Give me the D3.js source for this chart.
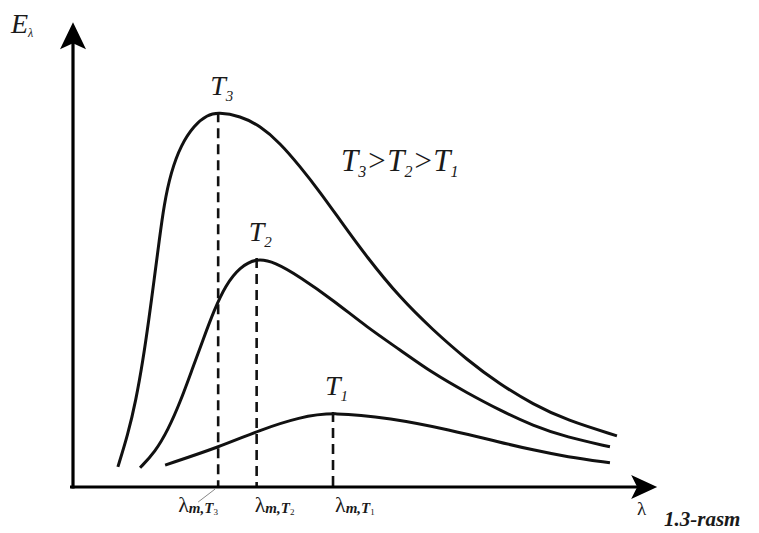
<!DOCTYPE html>
<html>
<head>
<meta charset="utf-8">
<script src="https://cdn.jsdelivr.net/npm/d3@7"></script>
<style>
  body { margin: 0; background: #fff; }
  text { font-family: "Liberation Serif", "DejaVu Serif", serif; fill: #1a1a1a; }
</style>
</head>
<body>
<svg width="759" height="533"></svg>
<script>
let svg = d3.select("svg");

// curve values (arbitrary units: lambda, E_lambda)
let seriesT3 = [
  [0.77, 0.44], [0.94, 1.14], [1.08, 1.90], [1.20, 2.77], [1.30, 3.65],
  [1.39, 4.52], [1.48, 5.40], [1.56, 6.17], [1.68, 6.89], [1.85, 7.48],
  [2.08, 7.92], [2.30, 8.14], [2.49, 8.20], [2.87, 8.12], [3.21, 7.90],
  [3.55, 7.53], [3.89, 7.02], [4.24, 6.45], [4.58, 5.84], [5.04, 5.03],
  [5.61, 4.14], [6.17, 3.44], [6.76, 2.78], [7.32, 2.25], [7.89, 1.81],
  [8.47, 1.46], [9.33, 1.12]
];
let seriesT2 = [
  [1.15, 0.42], [1.41, 0.77], [1.63, 1.25], [1.84, 1.86], [2.04, 2.56],
  [2.23, 3.22], [2.42, 3.87], [2.62, 4.42], [2.86, 4.81], [3.15, 5.01],
  [3.46, 4.92], [3.89, 4.60], [4.46, 4.09], [5.04, 3.50], [5.61, 3.00],
  [6.17, 2.49], [6.76, 2.06], [7.32, 1.68], [7.89, 1.34], [8.47, 1.09],
  [9.21, 0.88]
];
let seriesT1 = [
  [1.58, 0.48], [2.52, 0.88], [3.21, 1.25], [3.89, 1.53], [4.46, 1.64],
  [5.44, 1.51], [6.47, 1.25], [7.32, 0.98], [7.89, 0.81], [8.47, 0.66],
  [9.21, 0.53]
];

let tempIndex = ["3", "2", "1"];
let allSeries = [seriesT3, seriesT2, seriesT1];

let x = d3.scaleLinear().domain([0, 10]).range([73, 656]);
let y = d3.scaleLinear().domain([0, 10]).range([487, 30]);

let line = d3.line()
    .x(function(d) { return x(d[0]); })
    .y(function(d) { return y(d[1]); })
    .curve(d3.curveBasis);

// peaks found from the data
let peaks = allSeries.map(function(s) { return d3.greatest(s, function(d) { return d[1]; }); });

// dashed drop lines at lambda max
svg.append("g")
    .selectAll("line")
    .data(peaks)
    .enter().append("line")
    .attr("x1", function(d) { return x(d[0]); })
    .attr("x2", function(d) { return x(d[0]); })
    .attr("y1", function(d) { return y(d[1]); })
    .attr("y2", y(0))
    .attr("stroke", "#111")
    .attr("stroke-width", 2.6)
    .attr("stroke-dasharray", "10,6");

// curves
svg.append("g")
    .selectAll("path")
    .data(allSeries)
    .enter().append("path")
    .attr("d", line)
    .attr("fill", "none")
    .attr("stroke", "#111")
    .attr("stroke-width", 3);

// axes
let x0 = x(0), y0 = y(0), xEnd = x(10.02), yEnd = y(10.17);
svg.append("line")
    .attr("x1", x0 - 3).attr("y1", y0).attr("x2", xEnd - 10).attr("y2", y0)
    .attr("stroke", "#000").attr("stroke-width", 3.2);
svg.append("line")
    .attr("x1", x0).attr("y1", y0 + 1.5).attr("x2", x0).attr("y2", yEnd + 10)
    .attr("stroke", "#000").attr("stroke-width", 3.2);
svg.append("path")
    .attr("d", d3.line()([[x0, yEnd], [x0 + 13, yEnd + 27], [x0, yEnd + 21], [x0 - 13, yEnd + 27]]) + "Z")
    .attr("fill", "#000");
svg.append("path")
    .attr("d", d3.line()([[xEnd, y0], [xEnd - 26, y0 + 12], [xEnd - 20, y0], [xEnd - 26, y0 - 12]]) + "Z")
    .attr("fill", "#000");

// T labels above each peak
let tLabels = svg.append("g")
    .selectAll("text")
    .data(peaks)
    .enter().append("text")
    .attr("x", function(d) { return x(d[0]) - 8; })
    .attr("y", function(d) { return y(d[1]) - 17; })
    .attr("font-size", 28)
    .attr("font-style", "italic");
tLabels.append("tspan").text("T");
tLabels.append("tspan")
    .attr("font-size", 15).attr("dy", 6)
    .text(function(d, i) { return tempIndex[i]; });

// lambda max labels under the axis
let labelShift = [-40, -2, 2];
let lLabels = svg.append("g")
    .selectAll("text")
    .data(peaks)
    .enter().append("text")
    .attr("x", function(d, i) { return x(d[0]) + labelShift[i]; })
    .attr("y", y0 + 25)
    .attr("font-size", 22)
    .attr("fill", "#333");
lLabels.append("tspan").text("λ");
lLabels.append("tspan")
    .attr("font-size", 15).attr("font-style", "italic").attr("font-weight", "bold").attr("dy", 1)
    .text("m,T");
lLabels.append("tspan")
    .attr("font-size", 9).attr("dy", 2)
    .text(function(d, i) { return tempIndex[i]; });

// thin leader line for the first label
svg.append("line")
    .attr("x1", x(peaks[0][0]) - 3).attr("y1", y0 + 2)
    .attr("x2", x(peaks[0][0]) - 20).attr("y2", y0 + 15)
    .attr("stroke", "#888").attr("stroke-width", 1);

// legend text
let legend = svg.append("text")
    .attr("x", 341).attr("y", 171)
    .attr("font-size", 31)
    .attr("font-style", "italic");
tempIndex.forEach(function(t, i) {
  legend.append("tspan").attr("dy", i === 0 ? 0 : -6).text(i === 0 ? "T" : ">T");
  legend.append("tspan").attr("font-size", 16).attr("dy", 6).text(t);
});

// axis titles
let eLabel = svg.append("text")
    .attr("x", 11).attr("y", 33)
    .attr("font-size", 28).attr("font-style", "italic").attr("fill", "#333");
eLabel.append("tspan").text("E");
eLabel.append("tspan").attr("font-size", 12).attr("dy", 4).text("λ");

svg.append("text")
    .attr("x", 637).attr("y", 515)
    .attr("font-size", 19).attr("fill", "#555")
    .text("λ");

svg.append("text")
    .attr("x", 664).attr("y", 526)
    .attr("font-family", "Liberation Sans, Arial, sans-serif")
    .attr("font-size", 21).attr("font-style", "italic").attr("font-weight", "bold").attr("fill", "#333")
    .text("1.3-rasm");
</script>
</body>
</html>
